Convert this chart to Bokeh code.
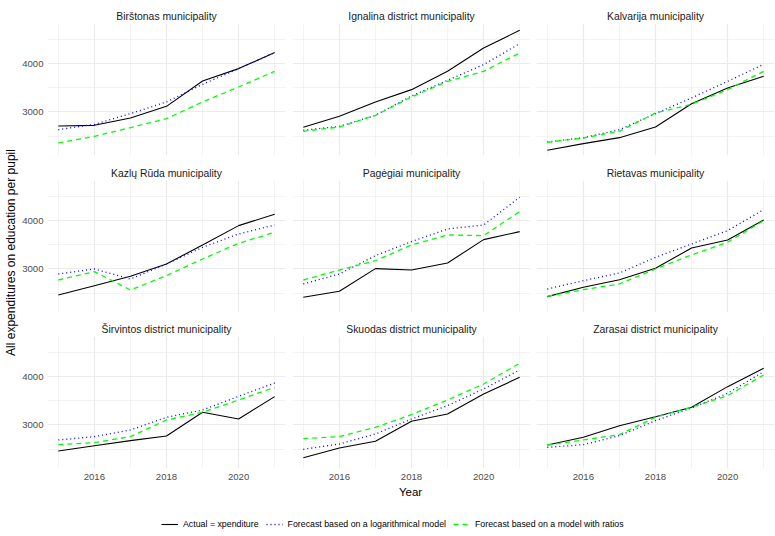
import math
from bokeh.plotting import figure
from bokeh.models import Range1d, FixedTicker, Label, Legend, LegendItem
from bokeh.layouts import column, row
from bokeh.embed import file_html
from bokeh.resources import INLINE

years = [2015, 2016, 2017, 2018, 2019, 2020, 2021]
x_major = [2016, 2018, 2020]
x_minor = [2015, 2017, 2019, 2021]
y_major = [3000, 4000]
y_minor = [2500, 3500, 4500]

names = ["Birštonas municipality", "Ignalina district municipality", "Kalvarija municipality",
         "Kazlų Rūda municipality", "Pagėgiai municipality", "Rietavas municipality",
         "Širvintos district municipality", "Skuodas district municipality", "Zarasai district municipality"]

series_labels = ["Actual = xpenditure", "Forecast based on a logarithmical model",
                 "Forecast based on a model with ratios"]

# Actual expenditure
actual_birstonas = [2710, 2724, 2876, 3117, 3641, 3897, 4228]
actual_ignalina = [2683, 2910, 3207, 3462, 3841, 4324, 4690]
actual_kalvarija = [2207, 2345, 2469, 2690, 3172, 3497, 3738]
actual_kazlu_ruda = [2462, 2655, 2848, 3103, 3497, 3897, 4131]
actual_pagegiai = [2414, 2538, 3007, 2979, 3124, 3607, 3772]
actual_rietavas = [2428, 2621, 2779, 3014, 3434, 3600, 4014]
actual_sirvintos = [2462, 2572, 2676, 2772, 3262, 3124, 3586]
actual_skuodas = [2324, 2524, 2662, 3076, 3228, 3641, 3986]
actual_zarasai = [2586, 2745, 2986, 3172, 3366, 3793, 4172]

# Forecast based on a logarithmical model
log_birstonas = [2634, 2745, 2966, 3207, 3572, 3897, 4228]
log_ignalina = [2621, 2703, 2931, 3331, 3655, 3979, 4414]
log_kalvarija = [2379, 2469, 2634, 2966, 3290, 3634, 3986]
log_kazlu_ruda = [2897, 3000, 2793, 3103, 3448, 3724, 3910]
log_pagegiai = [2690, 2897, 3276, 3566, 3828, 3910, 4483]
log_rietavas = [2586, 2759, 2917, 3241, 3517, 3793, 4228]
log_sirvintos = [2690, 2759, 2897, 3159, 3310, 3593, 3869]
log_skuodas = [2497, 2607, 2814, 3124, 3400, 3745, 4138]
log_zarasai = [2538, 2593, 2779, 3090, 3352, 3655, 4103]

# Forecast based on a model with ratios
ratio_birstonas = [2359, 2497, 2676, 2862, 3207, 3517, 3841]
ratio_ignalina = [2600, 2690, 2931, 3310, 3634, 3841, 4221]
ratio_kalvarija = [2372, 2462, 2600, 2979, 3159, 3462, 3841]
ratio_kazlu_ruda = [2772, 2945, 2566, 2862, 3207, 3531, 3759]
ratio_pagegiai = [2772, 2979, 3172, 3497, 3703, 3690, 4186]
ratio_rietavas = [2434, 2572, 2690, 3000, 3290, 3552, 4000]
ratio_sirvintos = [2593, 2634, 2759, 3103, 3262, 3517, 3779]
ratio_skuodas = [2717, 2759, 2952, 3214, 3517, 3848, 4276]
ratio_zarasai = [2586, 2690, 2800, 3159, 3366, 3607, 4034]

actual = [actual_birstonas, actual_ignalina, actual_kalvarija, actual_kazlu_ruda, actual_pagegiai,
          actual_rietavas, actual_sirvintos, actual_skuodas, actual_zarasai]
logm = [log_birstonas, log_ignalina, log_kalvarija, log_kazlu_ruda, log_pagegiai,
        log_rietavas, log_sirvintos, log_skuodas, log_zarasai]
ratio = [ratio_birstonas, ratio_ignalina, ratio_kalvarija, ratio_kazlu_ruda, ratio_pagegiai,
         ratio_rietavas, ratio_sirvintos, ratio_skuodas, ratio_zarasai]

FONT = "Liberation Sans"
GRID = "#ebebeb"
TICK_COL = "#4d4d4d"
FRAME_W = 238
FRAME_H = 132
YT_W = 19
LEFT = [27, 7, 6]
RIGHT = [0, 0, 1]
TOP = [23, 23, 23]
BOTTOM = [2, 1, 18]

xr = Range1d(2014.7, 2021.3)
yr = Range1d(2100, 4830)

STYLES = [dict(line_color="black", line_width=1.1),
          dict(line_color="#0000ff", line_width=1.3, line_dash="1 3"),
          dict(line_color="#00ff00", line_width=1.3, line_dash="5 4")]


def make_panel(i):
    r, c = divmod(i, 3)
    p = figure(frame_width=FRAME_W, frame_height=FRAME_H, x_range=xr, y_range=yr,
               output_backend="svg", toolbar_location=None, title=names[i],
               min_border_left=LEFT[c], min_border_right=RIGHT[c],
               min_border_top=TOP[r], min_border_bottom=BOTTOM[r])
    p.outline_line_color = None
    p.background_fill_color = "white"
    p.border_fill_color = "white"
    p.title.align = "center"
    p.title.text_font = FONT
    p.title.text_font_size = "10.4px"
    p.title.text_font_style = "normal"
    p.title.text_color = "#1a1a1a"
    p.title.standoff = 4

    xt = FixedTicker(ticks=x_major, minor_ticks=x_minor)
    yt = FixedTicker(ticks=y_major, minor_ticks=y_minor)
    for ax, t, so in ((p.xaxis[0], xt, 5), (p.yaxis[0], yt, 4)):
        ax.ticker = t
        ax.axis_line_color = None
        ax.major_tick_line_color = None
        ax.minor_tick_line_color = None
        ax.major_tick_out = 0
        ax.major_tick_in = 0
        ax.minor_tick_out = 0
        ax.minor_tick_in = 0
        ax.major_label_text_font = FONT
        ax.major_label_text_font_size = "9.6px"
        ax.major_label_text_color = TICK_COL
        ax.major_label_standoff = so
    p.xaxis.visible = (r == 2)
    p.yaxis.visible = (c == 0)
    p.xgrid.ticker = xt
    p.ygrid.ticker = yt
    for g in (p.xgrid[0], p.ygrid[0]):
        g.grid_line_color = GRID
        g.grid_line_width = 1.2
        g.minor_grid_line_color = GRID
        g.minor_grid_line_width = 0.6

    for data, st in zip((actual[i], logm[i], ratio[i]), STYLES):
        p.line(years, data, **st)
    return p


panels = [make_panel(i) for i in range(9)]
grid = column(row(*panels[0:3]), row(*panels[3:6]), row(*panels[6:9]))

grid_h = sum(TOP) + sum(BOTTOM) + 3 * FRAME_H
total_w = YT_W + sum(LEFT) + sum(RIGHT) + 3 * FRAME_W

# y-axis title
yt_fig = figure(frame_width=YT_W, frame_height=grid_h, output_backend="svg", toolbar_location=None,
                x_range=Range1d(0, 1), y_range=Range1d(0, 1),
                min_border_left=0, min_border_right=0, min_border_top=0, min_border_bottom=0)
yt_fig.axis.visible = False
yt_fig.grid.visible = False
yt_fig.outline_line_color = None
yt_fig.add_layout(Label(x=10.5, y=grid_h - 252, x_units="screen", y_units="screen",
                        text="All expenditures on education per pupil", angle=math.pi / 2,
                        text_align="center", text_baseline="middle", text_font=FONT,
                        text_font_size="12px", text_color="#000000"))

# bottom: x title + legend
BOT_H = 536 - grid_h
bot = figure(frame_width=total_w, frame_height=BOT_H, output_backend="svg", toolbar_location=None,
             x_range=Range1d(0, 1), y_range=Range1d(0, 1),
             min_border_left=0, min_border_right=0, min_border_top=0, min_border_bottom=0)
bot.axis.visible = False
bot.grid.visible = False
bot.outline_line_color = None
bot.add_layout(Label(x=YT_W + LEFT[0] + FRAME_W + RIGHT[0] + LEFT[1] + FRAME_W / 2, y=BOT_H - 5,
                     x_units="screen", y_units="screen",
                     text="Year", text_align="center", text_baseline="middle", text_font=FONT,
                     text_font_size="11.5px", text_color="#000000"))
items = []
for lab, st in zip(series_labels, STYLES):
    rr = bot.line([-10, -9], [-10, -9], **st)
    items.append(LegendItem(label=lab, renderers=[rr]))
leg = Legend(items=items, orientation="horizontal", location=(161, 7),
             glyph_width=17, glyph_height=10, label_height=10, label_standoff=5, spacing=7,
             padding=0, margin=0, border_line_color=None, background_fill_alpha=0,
             label_text_font=FONT, label_text_font_size="8.8px", label_text_color="#000000")
bot.add_layout(leg, "center")

layout = column(row(yt_fig, grid), bot)

open("out.html", "w").write(file_html(layout, INLINE))
